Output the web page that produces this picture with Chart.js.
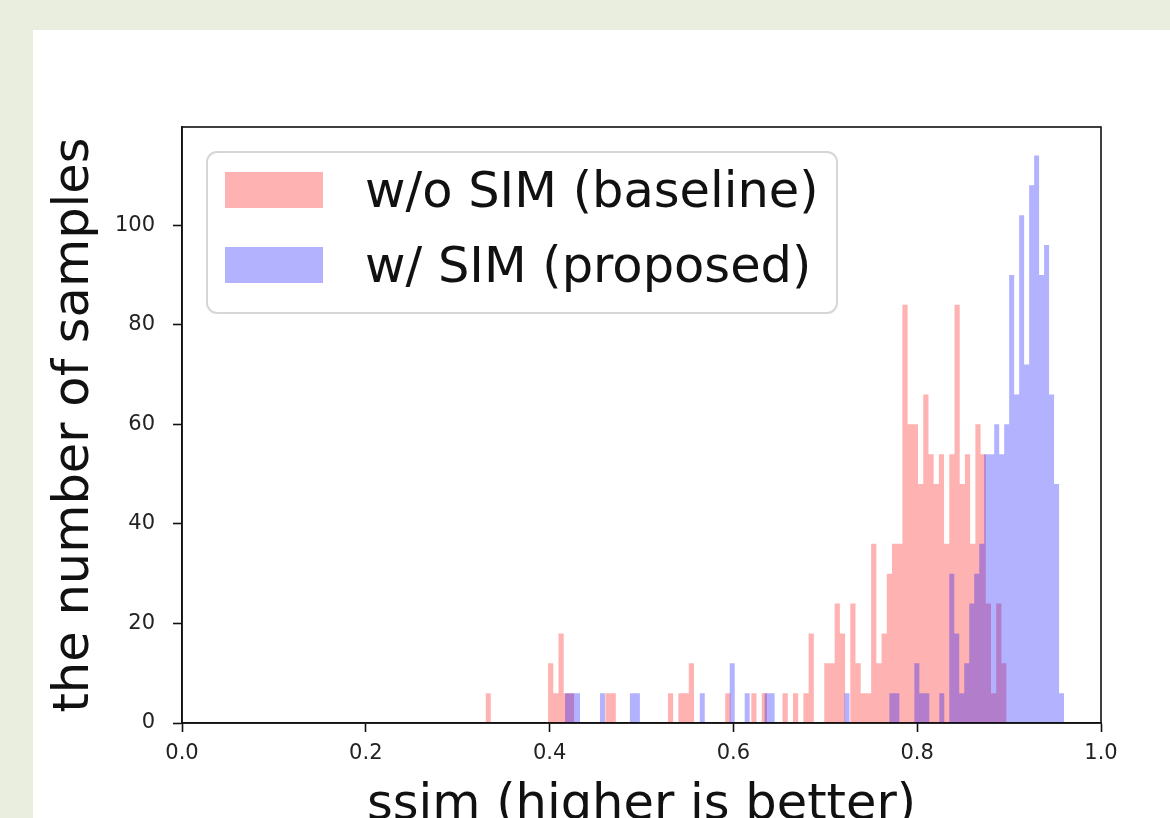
<!DOCTYPE html>
<html>
<head>
<meta charset="utf-8">
<title>ssim histogram</title>
<script src="https://cdn.jsdelivr.net/npm/chart.js@4.4.1/dist/chart.umd.min.js"></script>
<style>
  html, body { margin: 0; padding: 0; width: 1170px; height: 818px; overflow: hidden; background: #eaeedf; }
  #panel { position: absolute; left: 33px; top: 30px; width: 1137px; height: 820px; background: #fff; }
</style>
</head>
<body>
<div id="panel"><canvas id="myChart"></canvas></div>
<script>
// series labels (legend)
const seriesLabels = ['w/o SIM (baseline)', 'w/ SIM (proposed)'];

// histogram bins: first edge, bin width, counts per bin
const redStart = 0.3303;
const redBinWidth = 0.00567;
const redCounts = [
  6, 0, 0, 0, 0, 0, 0, 0, 0, 0,
  0, 0, 12, 6, 18, 6, 6, 0, 0, 0,
  0, 0, 0, 6, 6, 0, 0, 0, 0, 0,
  0, 0, 0, 0, 0, 6, 0, 6, 6, 12,
  0, 0, 0, 0, 0, 0, 6, 0, 0, 0,
  0, 6, 0, 6, 0, 0, 0, 6, 0, 6,
  0, 6, 18, 0, 0, 12, 12, 24, 18, 0,
  24, 12, 6, 6, 36, 12, 18, 30, 36, 36,
  84, 60, 60, 48, 66, 54, 48, 54, 36, 54,
  84, 48, 54, 36, 60, 54, 24, 6, 24, 12
];

const blueStart = 0.4168;
const blueBinWidth = 0.00543;
const blueCounts = [
  6, 6, 6, 0, 0, 0, 0, 6, 0, 0,
  0, 0, 0, 6, 6, 0, 0, 0, 0, 0,
  0, 0, 0, 0, 0, 0, 0, 6, 0, 0,
  0, 0, 0, 12, 0, 0, 6, 0, 0, 0,
  6, 6, 0, 0, 0, 0, 0, 0, 0, 0,
  0, 0, 0, 0, 0, 0, 6, 0, 0, 0,
  0, 0, 0, 0, 0, 6, 6, 0, 0, 0,
  12, 6, 6, 0, 0, 6, 0, 30, 18, 6,
  12, 24, 30, 36, 54, 54, 60, 54, 60, 90,
  66, 102, 72, 108, 114, 90, 96, 66, 48, 6
];

// axis ticks
const xTicks = [0.0, 0.2, 0.4, 0.6, 0.8, 1.0];
const yTicks = [0, 20, 40, 60, 80, 100];

// turn bins into step points (left edge of every bin + closing right edge)
function histPoints(start, width, counts) {
  const pts = counts.map((c, i) => ({ x: start + i * width, y: c }));
  pts.push({ x: start + counts.length * width, y: 0 });
  return pts;
}

// legend box in the upper left corner + top/right spines
const boxLegend = {
  id: 'boxLegend',
  afterDraw(chart) {
    const { ctx, chartArea } = chart;
    ctx.save();
    ctx.strokeStyle = '#111';
    ctx.lineWidth = 1.6;
    ctx.strokeRect(chartArea.left, chartArea.top, chartArea.right - chartArea.left, chartArea.bottom - chartArea.top);

    const x0 = chartArea.left + 25, y0 = chartArea.top + 25;
    ctx.beginPath();
    ctx.roundRect(x0, y0, 630, 161, 10);
    ctx.fillStyle = 'rgba(255,255,255,0.8)';
    ctx.fill();
    ctx.strokeStyle = '#d6d6d6';
    ctx.lineWidth = 2;
    ctx.stroke();

    chart.data.datasets.forEach((ds, i) => {
      const rowY = y0 + 38 + i * 75;
      ctx.fillStyle = ds.backgroundColor;
      ctx.fillRect(x0 + 18, rowY - 18, 98, 36);
      ctx.fillStyle = '#111';
      ctx.font = '49.5px "DejaVu Sans"';
      ctx.textBaseline = 'middle';
      ctx.textAlign = 'left';
      ctx.fillText(ds.label, x0 + 158, rowY + 4);
    });
    ctx.restore();
  }
};

const ctx = document.getElementById('myChart').getContext('2d');
const myChart = new Chart(ctx, {
  type: 'line',
  data: {
    datasets: [
      {
        label: seriesLabels[0],
        data: histPoints(redStart, redBinWidth, redCounts),
        stepped: 'before',
        fill: 'origin',
        backgroundColor: 'rgba(255,0,0,0.3)',
        borderColor: 'transparent',
        borderWidth: 0,
        pointRadius: 0,
        order: 2
      },
      {
        label: seriesLabels[1],
        data: histPoints(blueStart, blueBinWidth, blueCounts),
        stepped: 'before',
        fill: 'origin',
        backgroundColor: 'rgba(0,0,255,0.3)',
        borderColor: 'transparent',
        borderWidth: 0,
        pointRadius: 0,
        order: 1
      }
    ]
  },
  options: {
    responsive: true,
    maintainAspectRatio: false,
    animation: false,
    layout: { padding: { top: 97, right: 69, bottom: 0, left: 0 } },
    plugins: {
      legend: { display: false },
      tooltip: { enabled: false }
    },
    scales: {
      x: {
        type: 'linear',
        min: 0,
        max: 1,
        afterFit(scale) { scale.height = 127; },
        afterBuildTicks(scale) { scale.ticks = xTicks.map(v => ({ value: v })); },
        ticks: {
          color: '#222',
          padding: 9,
          maxRotation: 0,
          font: { family: 'DejaVu Sans', size: 21 },
          callback: v => Number(v).toFixed(1)
        },
        grid: { display: true, drawOnChartArea: false, drawTicks: true, tickLength: 9, tickColor: '#111', tickWidth: 1.6 },
        border: { display: true, color: '#111', width: 1.6 },
        title: {
          display: true,
          text: 'ssim (higher is better)',
          color: '#111',
          font: { family: 'DejaVu Sans', size: 49.5, lineHeight: 1.2 },
          padding: { top: 0, bottom: 14 }
        }
      },
      y: {
        min: 0,
        max: 119.7,
        afterFit(scale) { scale.width = 149; },
        afterBuildTicks(scale) { scale.ticks = yTicks.map(v => ({ value: v })); },
        ticks: {
          color: '#222',
          padding: 18,
          font: { family: 'DejaVu Sans', size: 21 }
        },
        grid: { display: true, drawOnChartArea: false, drawTicks: true, tickLength: 9, tickColor: '#111', tickWidth: 1.6 },
        border: { display: true, color: '#111', width: 1.6 },
        title: {
          display: true,
          text: 'the number of samples',
          color: '#111',
          font: { family: 'DejaVu Sans', size: 49.5, lineHeight: 1.2 },
          padding: { top: 12, bottom: 0 }
        }
      }
    }
  },
  plugins: [boxLegend]
});
</script>
</body>
</html>
